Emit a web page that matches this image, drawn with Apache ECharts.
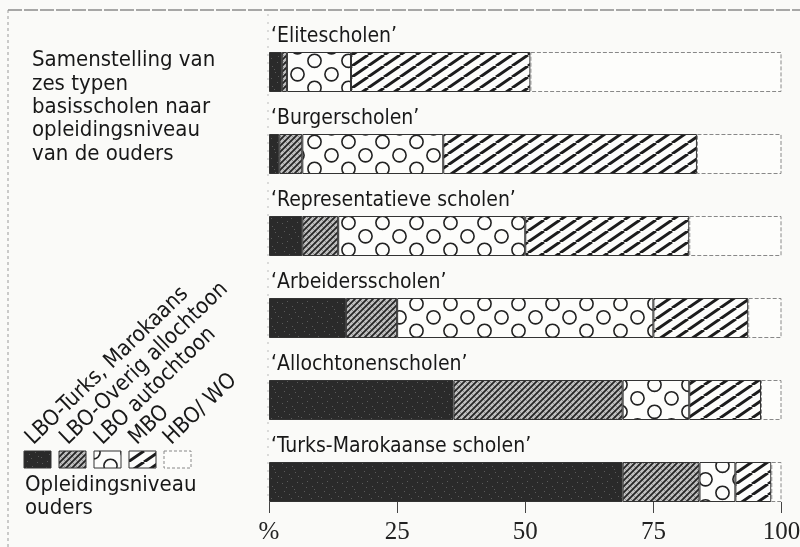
<!DOCTYPE html>
<html>
<head>
<meta charset="utf-8">
<script src="https://cdn.jsdelivr.net/npm/echarts@6/dist/echarts.min.js"></script>
<style>
html,body{margin:0;padding:0;background:#fafaf8;}
#chart{width:800px;height:547px;}
</style>
</head>
<body>
<div id="chart"></div>
<script>
// ---- data ----
const categories = ['‘Elitescholen’', '‘Burgerscholen’', '‘Representatieve scholen’', '‘Arbeidersscholen’', '‘Allochtonenscholen’', '‘Turks-Marokaanse scholen’'];
const seriesNames = ['LBO-Turks, Marokaans', 'LBO-Overig allochtoon', 'LBO autochtoon', 'MBO', 'HBO/ WO'];
const lboTurksMarokaans = [2.5, 2, 6.5, 15, 36, 69];
const lboOverigAllochtoon = [1, 4.5, 7, 10, 33, 15];
const lboAutochtoon = [12.5, 27.5, 36.5, 50, 13, 7];
const mbo = [35, 49.5, 32, 18.5, 14, 7];
const hboWo = [49, 16.5, 18, 6.5, 4, 2];
const xTickLabels = ['%', '25', '50', '75', '100'];
const titleLines = ['Samenstelling van', 'zes typen', 'basisscholen naar', 'opleidingsniveau', 'van de ouders'];
const legendTitle = ['Opleidingsniveau', 'ouders'];

// ---- patterns ----
function makeCanvas(w, h, draw) {
  const c = document.createElement('canvas');
  c.width = w; c.height = h;
  draw(c.getContext('2d'), w, h);
  return c;
}
const specks = [[2,3],[7,1],[12,6],[17,2],[4,11],[9,14],[15,12],[1,17],[11,18],[18,16],[6,7],[14,9]];
const darkTile = makeCanvas(20, 20, (g, w, h) => {
  g.fillStyle = '#2a2a2a'; g.fillRect(0, 0, w, h);
  g.fillStyle = '#5a5a5a';
  specks.forEach(p => g.fillRect(p[0], p[1], 1, 1));
});
const hatchTile = makeCanvas(6, 6, (g, s) => {
  g.fillStyle = '#c0c0c0'; g.fillRect(0, 0, s, s);
  g.strokeStyle = '#777'; g.lineWidth = 0.7;
  g.beginPath(); g.moveTo(0, 0); g.lineTo(s, s); g.stroke();
  g.strokeStyle = '#262626'; g.lineWidth = 1.8;
  g.beginPath();
  g.moveTo(0, s); g.lineTo(s, 0);
  g.moveTo(-1, 1); g.lineTo(1, -1);
  g.moveTo(s - 1, s + 1); g.lineTo(s + 1, s - 1);
  g.stroke();
});
const circleTile = makeCanvas(34, 27, (g, w, h) => {
  g.fillStyle = '#fdfdfb'; g.fillRect(0, 0, w, h);
  g.strokeStyle = '#222'; g.lineWidth = 1.6;
  [[8.5, 6.8], [25.5, 20.3]].forEach(p => {
    [-1, 0, 1].forEach(dx => [-1, 0, 1].forEach(dy => {
      g.beginPath(); g.arc(p[0] + dx * w, p[1] + dy * h, 6.6, 0, Math.PI * 2); g.stroke();
    }));
  });
});
const stripeTile = makeCanvas(16, 11, (g, w, h) => {
  g.fillStyle = '#fdfdfb'; g.fillRect(0, 0, w, h);
  g.strokeStyle = '#1c1c1c'; g.lineWidth = 3;
  g.beginPath();
  [-w, 0, w].forEach(o => { g.moveTo(o, h); g.lineTo(o + w, 0); });
  g.stroke();
});
const fills = [
  {image: darkTile, repeat: 'repeat'},
  {image: hatchTile, repeat: 'repeat'},
  {image: circleTile, repeat: 'repeat'},
  {image: stripeTile, repeat: 'repeat'},
  '#fdfdfb'
];
const seriesData = [lboTurksMarokaans, lboOverigAllochtoon, lboAutochtoon, mbo, hboWo];

const FONT = '"DejaVu Sans Condensed", "DejaVu Sans", sans-serif';
const NUMFONT = '"Liberation Serif", serif';
const INK = '#181818';

const chart = echarts.init(document.getElementById('chart'), null, {renderer: 'canvas'});

const series = seriesData.map((d, i) => ({
  name: seriesNames[i],
  type: 'bar',
  stack: 'total',
  data: d,
  barWidth: 40,
  itemStyle: {
    color: fills[i],
    borderColor: i === 4 ? '#888' : '#333',
    borderWidth: 1,
    borderType: i === 4 ? 'dashed' : 'solid'
  },
  label: i === 0 ? {
    show: true,
    position: [2, -5],
    align: 'left',
    verticalAlign: 'bottom',
    formatter: p => categories[p.dataIndex],
    fontFamily: FONT,
    fontSize: 21,
    color: INK
  } : {show: false},
  emphasis: {disabled: true},
  silent: true
}));

// legend and frame graphics
const graphic = [];
graphic.push({type: 'line', shape: {x1: 8, y1: 10, x2: 800, y2: 10}, style: {stroke: '#555', lineWidth: 1.2, lineDash: [14, 2]}, silent: true});
graphic.push({type: 'line', shape: {x1: 8, y1: 10, x2: 8, y2: 547}, style: {stroke: '#999', lineWidth: 1, lineDash: [3, 3]}, silent: true});
graphic.push({type: 'line', shape: {x1: 268, y1: 14, x2: 268, y2: 500}, style: {stroke: '#bbb', lineWidth: 1, lineDash: [2, 6]}, silent: true});
graphic.push({
  type: 'text', left: 32, top: 49, silent: true,
  style: {text: titleLines.join('\n'), font: '22px ' + FONT, fill: INK, lineHeight: 23.3}
});
seriesNames.forEach((n, i) => {
  graphic.push({
    type: 'rect', silent: true,
    shape: {x: 24 + 35 * i, y: 451, width: 27, height: 17},
    style: {fill: fills[i], stroke: i === 4 ? '#888' : '#333', lineWidth: 1, lineDash: i === 4 ? [3, 2] : null}
  });
  graphic.push({
    type: 'text', silent: true,
    x: 37 + 34.5 * i, y: 449, rotation: Math.PI * 44 / 180,
    style: {text: n, font: '22px ' + FONT, fill: INK, align: 'left', verticalAlign: 'bottom'}
  });
});
graphic.push({
  type: 'text', left: 25, top: 474, silent: true,
  style: {text: legendTitle.join('\n'), font: '22px ' + FONT, fill: INK, lineHeight: 23}
});

chart.setOption({
  animation: false,
  backgroundColor: '#fafaf8',
  grid: {left: 269, right: 18.5, top: 31, height: 492, containLabel: false, outerBoundsMode: 'none'},
  xAxis: {
    type: 'value', min: 0, max: 100, interval: 25,
    position: 'bottom', offset: -21,
    axisLine: {show: false},
    axisTick: {show: true, length: 11, lineStyle: {color: '#444', width: 1}},
    splitLine: {show: false},
    axisLabel: {
      margin: 18, fontFamily: NUMFONT, fontSize: 25, color: '#222',
      formatter: v => xTickLabels[Math.round(v / 25)]
    }
  },
  yAxis: {
    type: 'category', data: categories, inverse: true,
    axisLine: {show: false}, axisTick: {show: false}, axisLabel: {show: false}, splitLine: {show: false}
  },
  series: series,
  graphic: graphic
});
</script>
</body>
</html>
